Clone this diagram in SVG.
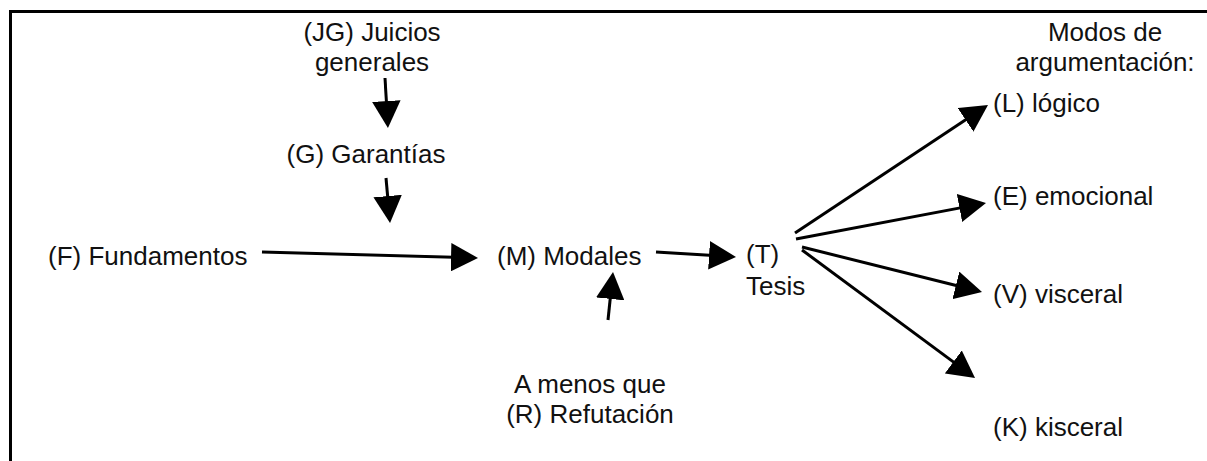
<svg xmlns="http://www.w3.org/2000/svg" width="1207" height="461" viewBox="0 0 1207 461">
<style>
.t{font-family:"Liberation Sans",Arial,sans-serif;font-size:26px;fill:#111}
.c{text-anchor:middle}
.a{stroke:#000;stroke-width:3;fill:none;marker-end:url(#ah)}
</style>
<defs>
<marker id="ah" viewBox="0 0 9 9.5" refX="7" refY="4.75" markerWidth="9" markerHeight="9.5" orient="auto" markerUnits="strokeWidth">
<path d="M0,0 L9,4.75 L0,9.5 z" fill="#000"/>
</marker>
</defs>
<rect x="10.5" y="11.5" width="1400" height="700" fill="#fff" stroke="#000" stroke-width="3"/>
<g id="connectors">
<line class="a" x1="385" y1="78" x2="387.6" y2="122"/>
<line class="a" x1="386" y1="178" x2="389.5" y2="217"/>
<line class="a" x1="262" y1="252" x2="472" y2="257.8"/>
<line class="a" x1="656" y1="252" x2="730" y2="256.6"/>
<line class="a" x1="608" y1="320" x2="612.4" y2="278"/>
<line class="a" x1="795" y1="233" x2="983" y2="108.3"/>
<line class="a" x1="796" y1="239" x2="980.1" y2="204.1"/>
<line class="a" x1="802" y1="247" x2="976.2" y2="290.5"/>
<line class="a" x1="802" y1="250" x2="970.2" y2="374.4"/>
</g>
<g id="jg"><text class="t c" x="372" y="41">(JG) Juicios</text><text class="t c" x="372" y="71">generales</text></g>
<g id="g"><text class="t c" x="366" y="163">(G) Garantías</text></g>
<g id="f"><text class="t" x="48" y="265">(F) Fundamentos</text></g>
<g id="m"><text class="t" x="497" y="265">(M) Modales</text></g>
<g id="t"><text class="t" x="746" y="263">(T)</text><text class="t" x="746" y="295">Tesis</text></g>
<g id="r"><text class="t c" x="590" y="393">A menos que</text><text class="t c" x="590" y="423">(R) Refutación</text></g>
<g id="modos"><text class="t c" x="1105" y="41">Modos de</text><text class="t c" x="1105" y="71">argumentación:</text></g>
<g id="l"><text class="t" x="993" y="112">(L) lógico</text></g>
<g id="e"><text class="t" x="993" y="205">(E) emocional</text></g>
<g id="v"><text class="t" x="993" y="303">(V) visceral</text></g>
<g id="k"><text class="t" x="993" y="436">(K) kisceral</text></g>
</svg>
